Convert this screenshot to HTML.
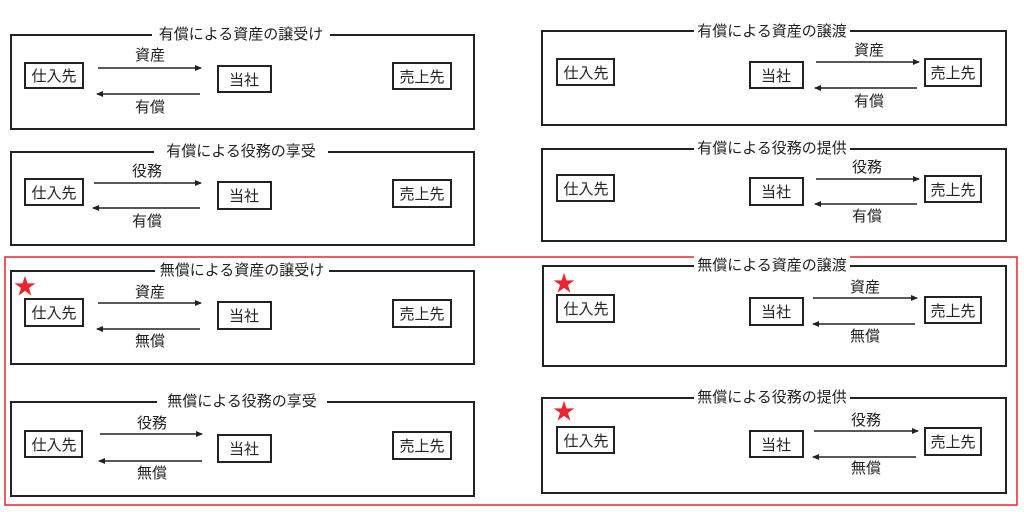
<!DOCTYPE html>
<html><head><meta charset="utf-8"><style>
html,body{margin:0;padding:0;background:#fff;width:1024px;height:512px;overflow:hidden}
svg text{font-family:"Liberation Sans","Noto Sans CJK JP",sans-serif;font-size:15px;fill:#222}
.p{fill:none;stroke:#222;stroke-width:2}
.b{fill:#fff;stroke:#222;stroke-width:2}
.a{stroke:#222;stroke-width:1.5}
.s{fill:#e8262d;font-size:22px!important}
</style></head><body>
<svg width="1024" height="512" viewBox="0 0 1024 512" xmlns="http://www.w3.org/2000/svg">
<defs><marker id="m" markerWidth="8" markerHeight="8" refX="6" refY="3" orient="auto" markerUnits="userSpaceOnUse"><path d="M0,0 L7,3 L0,6 z" fill="#222"/></marker></defs>
<rect x="5" y="257" width="1012" height="248" fill="none" stroke="#e8262d" stroke-width="1.5"/>

<!-- L1 -->
<rect class="p" x="11" y="35" width="463" height="94"/>
<rect x="152" y="24" width="178" height="20" fill="#fff"/>
<text x="241" y="39" text-anchor="middle">有償による資産の譲受け</text>
<rect class="b" x="25" y="63" width="58" height="25"/><text x="54" y="81" text-anchor="middle">仕入先</text>
<rect class="b" x="218" y="66" width="53" height="26"/><text x="244" y="85" text-anchor="middle">当社</text>
<rect class="b" x="393" y="63" width="58" height="26"/><text x="422" y="82" text-anchor="middle">売上先</text>
<line class="a" x1="98" y1="68" x2="201" y2="68" marker-end="url(#m)"/>
<line class="a" x1="200" y1="94" x2="97" y2="94" marker-end="url(#m)"/>
<text x="150" y="60" text-anchor="middle">資産</text><text x="150" y="112" text-anchor="middle">有償</text>

<!-- L2 -->
<rect class="p" x="11" y="152" width="463" height="93"/>
<rect x="154" y="141" width="174" height="20" fill="#fff"/>
<text x="241" y="156" text-anchor="middle">有償による役務の享受</text>
<rect class="b" x="25" y="179" width="58" height="26"/><text x="54" y="198" text-anchor="middle">仕入先</text>
<rect class="b" x="218" y="182" width="53" height="27"/><text x="244" y="201" text-anchor="middle">当社</text>
<rect class="b" x="393" y="180" width="58" height="27"/><text x="422" y="199" text-anchor="middle">売上先</text>
<line class="a" x1="94" y1="183" x2="201" y2="183" marker-end="url(#m)"/>
<line class="a" x1="200" y1="208" x2="93" y2="208" marker-end="url(#m)"/>
<text x="147" y="176" text-anchor="middle">役務</text><text x="147" y="226" text-anchor="middle">有償</text>

<!-- L3 -->
<rect class="p" x="11" y="271" width="463" height="93"/>
<rect x="155" y="260" width="174" height="20" fill="#fff"/>
<text x="242" y="275" text-anchor="middle">無償による資産の譲受け</text>
<text class="s" x="14" y="294">★</text>
<rect class="b" x="25" y="299" width="58" height="27"/><text x="54" y="318" text-anchor="middle">仕入先</text>
<rect class="b" x="218" y="302" width="53" height="27"/><text x="244" y="321" text-anchor="middle">当社</text>
<rect class="b" x="393" y="300" width="58" height="27"/><text x="422" y="319" text-anchor="middle">売上先</text>
<line class="a" x1="98" y1="303" x2="201" y2="303" marker-end="url(#m)"/>
<line class="a" x1="200" y1="329" x2="97" y2="329" marker-end="url(#m)"/>
<text x="150" y="297" text-anchor="middle">資産</text><text x="150" y="346" text-anchor="middle">無償</text>

<!-- L4 -->
<rect class="p" x="11" y="402" width="463" height="94"/>
<rect x="157" y="391" width="170" height="20" fill="#fff"/>
<text x="242" y="406" text-anchor="middle">無償による役務の享受</text>
<rect class="b" x="25" y="431" width="57" height="26"/><text x="54" y="450" text-anchor="middle">仕入先</text>
<rect class="b" x="218" y="435" width="53" height="27"/><text x="244" y="454" text-anchor="middle">当社</text>
<rect class="b" x="393" y="432" width="58" height="27"/><text x="422" y="451" text-anchor="middle">売上先</text>
<line class="a" x1="100" y1="434" x2="202" y2="434" marker-end="url(#m)"/>
<line class="a" x1="202" y1="461" x2="99" y2="461" marker-end="url(#m)"/>
<text x="152" y="428" text-anchor="middle">役務</text><text x="152" y="478" text-anchor="middle">無償</text>

<!-- R1 -->
<rect class="p" x="542" y="31" width="464" height="94"/>
<rect x="694" y="20" width="156" height="20" fill="#fff"/>
<text x="772" y="36" text-anchor="middle">有償による資産の譲渡</text>
<rect class="b" x="557" y="59" width="57" height="26"/><text x="586" y="78" text-anchor="middle">仕入先</text>
<rect class="b" x="750" y="62" width="53" height="26"/><text x="776" y="81" text-anchor="middle">当社</text>
<rect class="b" x="925" y="59" width="56" height="27"/><text x="953" y="78" text-anchor="middle">売上先</text>
<line class="a" x1="816" y1="62" x2="919" y2="62" marker-end="url(#m)"/>
<line class="a" x1="917" y1="88" x2="815" y2="88" marker-end="url(#m)"/>
<text x="869" y="55" text-anchor="middle">資産</text><text x="869" y="106" text-anchor="middle">有償</text>

<!-- R2 -->
<rect class="p" x="542" y="149" width="464" height="92"/>
<rect x="694" y="138" width="156" height="20" fill="#fff"/>
<text x="772" y="153" text-anchor="middle">有償による役務の提供</text>
<rect class="b" x="557" y="175" width="57" height="26"/><text x="586" y="194" text-anchor="middle">仕入先</text>
<rect class="b" x="750" y="178" width="53" height="27"/><text x="776" y="197" text-anchor="middle">当社</text>
<rect class="b" x="925" y="176" width="56" height="26"/><text x="953" y="195" text-anchor="middle">売上先</text>
<line class="a" x1="816" y1="179" x2="919" y2="179" marker-end="url(#m)"/>
<line class="a" x1="917" y1="204" x2="815" y2="204" marker-end="url(#m)"/>
<text x="867" y="172" text-anchor="middle">役務</text><text x="867" y="221" text-anchor="middle">有償</text>

<!-- R3 -->
<rect class="p" x="543" y="266" width="463" height="100"/>
<rect x="694" y="255" width="156" height="20" fill="#fff"/>
<text x="772" y="270" text-anchor="middle">無償による資産の譲渡</text>
<text class="s" x="553" y="291">★</text>
<rect class="b" x="557" y="295" width="57" height="27"/><text x="586" y="314" text-anchor="middle">仕入先</text>
<rect class="b" x="750" y="298" width="53" height="27"/><text x="776" y="317" text-anchor="middle">当社</text>
<rect class="b" x="925" y="297" width="56" height="26"/><text x="953" y="316" text-anchor="middle">売上先</text>
<line class="a" x1="813" y1="298" x2="917" y2="298" marker-end="url(#m)"/>
<line class="a" x1="915" y1="324" x2="813" y2="324" marker-end="url(#m)"/>
<text x="865" y="292" text-anchor="middle">資産</text><text x="865" y="341" text-anchor="middle">無償</text>

<!-- R4 -->
<rect class="p" x="542" y="398" width="464" height="95"/>
<rect x="694" y="387" width="156" height="20" fill="#fff"/>
<text x="772" y="402" text-anchor="middle">無償による役務の提供</text>
<text class="s" x="553" y="419">★</text>
<rect class="b" x="557" y="427" width="57" height="26"/><text x="586" y="446" text-anchor="middle">仕入先</text>
<rect class="b" x="750" y="431" width="53" height="26"/><text x="776" y="450" text-anchor="middle">当社</text>
<rect class="b" x="925" y="428" width="56" height="27"/><text x="953" y="447" text-anchor="middle">売上先</text>
<line class="a" x1="814" y1="431" x2="918" y2="431" marker-end="url(#m)"/>
<line class="a" x1="916" y1="457" x2="813" y2="457" marker-end="url(#m)"/>
<text x="866" y="425" text-anchor="middle">役務</text><text x="866" y="473" text-anchor="middle">無償</text>
</svg>
</body></html>
